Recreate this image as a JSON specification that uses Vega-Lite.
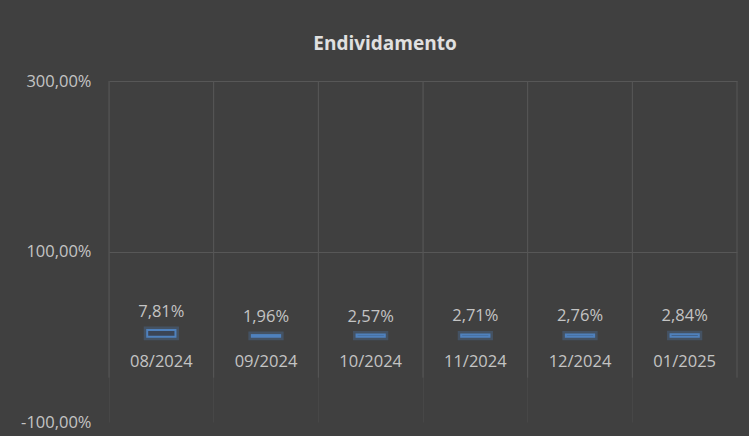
{
  "$schema": "https://vega.github.io/schema/vega-lite/v6.json",
  "width": 628,
  "height": 341,
  "autosize": {"type": "none"},
  "padding": {"left": 109, "top": 81, "right": 12, "bottom": 14},
  "background": "#404040",
  "title": {
    "text": "Endividamento",
    "color": "#e0e0e0",
    "fontSize": 19,
    "fontWeight": "bold",
    "font": "Open Sans",
    "offset": 19,
    "dx": -38
  },
  "config": {
    "font": "Open Sans",
    "locale": {
      "number": {
        "decimal": ",",
        "thousands": ".",
        "grouping": [3],
        "currency": ["R$ ", ""],
        "minus": "-",
        "percent": "%"
      }
    },
    "view": {"stroke": null}
  },
  "data": {
    "values": [
      {"mes": "08/2024", "valor": 0.0781},
      {"mes": "09/2024", "valor": 0.0196},
      {"mes": "10/2024", "valor": 0.0257},
      {"mes": "11/2024", "valor": 0.0271},
      {"mes": "12/2024", "valor": 0.0276},
      {"mes": "01/2025", "valor": 0.0284}
    ]
  },
  "encoding": {
    "x": {
      "field": "mes",
      "type": "nominal",
      "sort": null,
      "scale": {"paddingInner": 0, "paddingOuter": 0},
      "axis": {
        "title": null,
        "labels": false,
        "ticks": false,
        "domain": false,
        "grid": true,
        "bandPosition": 0,
        "gridColor": "#474747",
        "gridWidth": 1
      }
    }
  },
  "layer": [
    {
      "mark": {"type": "rule", "color": "#575757", "strokeWidth": 1},
      "encoding": {
        "x": {"field": "mes", "type": "nominal", "sort": null, "bandPosition": 0},
        "y": {"datum": 3},
        "y2": {"datum": -0.48}
      }
    },
    {
      "transform": [{"filter": "datum.mes == '01/2025'"}],
      "mark": {"type": "rule", "color": "#575757", "strokeWidth": 1},
      "encoding": {
        "x": {"field": "mes", "type": "nominal", "sort": null, "bandPosition": 1},
        "y": {"datum": 3},
        "y2": {"datum": -0.48}
      }
    },
    {
      "mark": {"type": "bar", "width": {"band": 0.27}, "fill": null, "stroke": "#4f81bd", "strokeOpacity": 0.28, "strokeWidth": 7},
      "encoding": {
        "y": {
          "field": "valor",
          "type": "quantitative",
          "scale": {"domain": [-1, 3], "nice": false, "zero": false},
          "axis": {
            "title": null,
            "values": [-1, 1, 3],
            "format": ".2%",
            "labelColor": "#c4c4c4",
            "labelFontSize": 16.5,
            "labelPadding": 18,
            "ticks": false,
            "domain": false,
            "grid": true,
            "gridColor": "#575757",
            "gridOpacity": {"condition": {"test": "datum.value < 0", "value": 0}, "value": 1},
            "gridWidth": 1
          }
        },
        "y2": {"datum": 0}
      }
    },
    {
      "mark": {"type": "bar", "width": {"band": 0.27}, "fill": "#3b4556", "stroke": "#4f81bd", "strokeWidth": 2},
      "encoding": {
        "y": {"field": "valor", "type": "quantitative"},
        "y2": {"datum": 0}
      }
    },
    {
      "mark": {"type": "text", "baseline": "bottom", "dy": -10, "fontSize": 16.5, "color": "#c4c4c4"},
      "encoding": {
        "y": {"field": "valor", "type": "quantitative"},
        "text": {"field": "valor", "type": "quantitative", "format": ".2%"}
      }
    },
    {
      "mark": {"type": "text", "baseline": "middle", "dy": 25, "fontSize": 16.5, "color": "#c4c4c4"},
      "encoding": {
        "y": {"datum": 0},
        "text": {"field": "mes", "type": "nominal"}
      }
    }
  ]
}
